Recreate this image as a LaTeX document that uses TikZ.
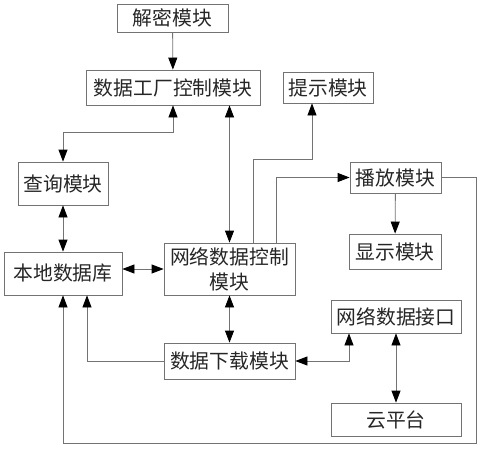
\documentclass[tikz,border=0pt]{standalone}
\usepackage{fontspec}
\newfontfamily\cjk{Noto Sans CJK SC}
\usetikzlibrary{arrows.meta}

\begin{document}
\begin{tikzpicture}[x=1pt, y=-1pt,
    modul/.style={draw=black!55, line width=0.8pt, inner sep=0pt, align=center,
      text=black!85, font=\cjk\fontsize{19.8}{25}\selectfont},
    lin/.style={draw=black!55, line width=0.8pt},
    arr/.style={lin, -{Triangle[length=12pt, width=9pt, black]}},
    dbl/.style={lin, {Triangle[length=12pt, width=9pt, black]}-{Triangle[length=12pt, width=9pt, black]}}]
  \useasboundingbox (0,0) rectangle (484,450);

  \node[modul, minimum width=111, minimum height=28] (jiemi) at (172.5,18) {解密模块};
  \node[modul, minimum width=174, minimum height=35] (gongchang) at (173,87.5) {数据工厂控制模块};
  \node[modul, minimum width=90, minimum height=31] (tishi) at (328,87.5) {提示模块};
  \node[modul, minimum width=90, minimum height=43] (chaxun) at (63,183.5) {查询模块};
  \node[modul, minimum width=118, minimum height=43] (bendi) at (63,273.5) {本地数据库};
  \node[modul, minimum width=131, minimum height=52] (wangkong) at (229.5,269) {网络数据控制\\模块};
  \node[modul, minimum width=91, minimum height=31] (bofang) at (395.5,177.5) {播放模块};
  \node[modul, minimum width=92, minimum height=35] (xianshi) at (395,251.5) {显示模块};
  \node[modul, minimum width=130, minimum height=33] (jiekou) at (396,316.5) {网络数据接口};
  \node[modul, minimum width=131, minimum height=36] (xiazai) at (229.5,361) {数据下载模块};
  \node[modul, minimum width=130, minimum height=33] (yun) at (396,419.5) {云平台};
  \coordinate (rand) at (476,443);

  \draw[arr] (jiemi) -- (gongchang);
  \draw[dbl] (gongchang.south) -- ++(0,27) -| (chaxun.north);
  \draw[dbl] (gongchang.south -| wangkong.north) -- (wangkong.north);
  \draw[arr] ([xshift=23.5]wangkong.north) -- ++(0,-83) -| ([xshift=-16]tishi.south);
  \draw[arr] ([xshift=47]wangkong.north) |- (bofang.west);
  \draw[arr] (bofang) -- (xianshi);
  \draw[dbl] (chaxun) -- (bendi);
  \draw[dbl] (wangkong.west -| bendi.east) -- (wangkong.west);
  \draw[dbl] (wangkong) -- (xiazai);
  \draw[arr] (xiazai.west) -| ([xshift=24]bendi.south);
  \draw[dbl] (xiazai.east) -| ([xshift=-47]jiekou.south);
  \draw[dbl] (jiekou) -- (yun);
  \draw[arr] (bofang.east) -| (rand) -| (bendi.south);
\end{tikzpicture}
\end{document}
